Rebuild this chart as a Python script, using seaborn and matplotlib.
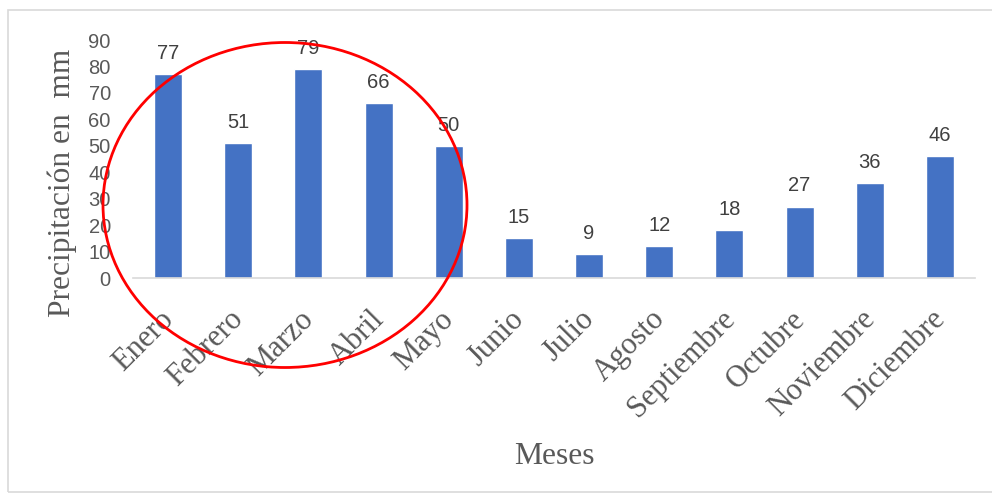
import matplotlib
matplotlib.use("Agg")
import matplotlib.pyplot as plt
import matplotlib.transforms as mtransforms
from matplotlib.patches import Ellipse, Rectangle
import seaborn as sns
import pandas as pd

meses = ["Enero", "Febrero", "Marzo", "Abril", "Mayo", "Junio", "Julio",
         "Agosto", "Septiembre", "Octubre", "Noviembre", "Diciembre"]
precip = [77, 51, 79, 66, 50, 15, 9, 12, 18, 27, 36, 46]
yticks = [0, 10, 20, 30, 40, 50, 60, 70, 80, 90]

sns.set_style("white")
plt.rcParams['font.family'] = ['Liberation Sans', 'DejaVu Sans']

df = pd.DataFrame({"Mes": meses, "Precipitacion": precip})

fig = plt.figure(figsize=(9.92, 4.95), dpi=100)
ax = fig.add_axes([133/992, 1-278/495, (975-133)/992, (278-40)/495])

sns.barplot(data=df, x="Mes", y="Precipitacion", color="#4472C4",
            width=0.4, saturation=1, ax=ax)

ax.set_ylim(0, 90)
ax.set_xlim(-0.5, len(meses)-0.5)
ax.set_yticks(yticks)
ax.set_yticklabels([str(t) for t in yticks], fontsize=14.5, color="#595959")
ax.tick_params(axis='y', length=0, pad=16)
ax.tick_params(axis='x', length=0, pad=0)
ax.set_xticks(range(len(meses)))
ax.set_xticklabels(meses, rotation=45, ha='right', va='center', rotation_mode='anchor',
                   fontsize=22, color="#595959", family='Liberation Serif')
offset = mtransforms.ScaledTranslation(1/100, -37/100, fig.dpi_scale_trans)
for lab in ax.get_xticklabels():
    lab.set_transform(lab.get_transform() + offset)

for s in ["top", "right", "left"]:
    ax.spines[s].set_visible(False)
ax.spines["bottom"].set_color("#D9D9D9")
ax.spines["bottom"].set_linewidth(1.2)

ax.set_xlabel("")
ax.set_ylabel("")

for i, v in enumerate(precip):
    ax.annotate(str(v), (i, v), xytext=(0, 8), textcoords="offset points",
                ha='center', va='bottom', fontsize=14.5, color="#404040")

fig.text(62/992, 1-183/495, "Precipitación en  mm", rotation=90, ha='center', va='center',
         fontsize=22.6, color="#595959", family='Liberation Serif')
fig.text(554/992, 1-457/495, "Meses", ha='center', va='center',
         fontsize=22.8, color="#595959", family='Liberation Serif')

ell = Ellipse((285/992, 1-205/495), 364/992, 325/495, transform=fig.transFigure,
              fill=False, edgecolor="#FF0000", linewidth=2)
fig.patches.append(ell)

border = Rectangle((8/992, 1-492/495), 1.2, (492-10)/495, transform=fig.transFigure,
                   fill=False, edgecolor="#D9D9D9", linewidth=1.2)
fig.patches.append(border)

fig.savefig("out.png", dpi=100)
